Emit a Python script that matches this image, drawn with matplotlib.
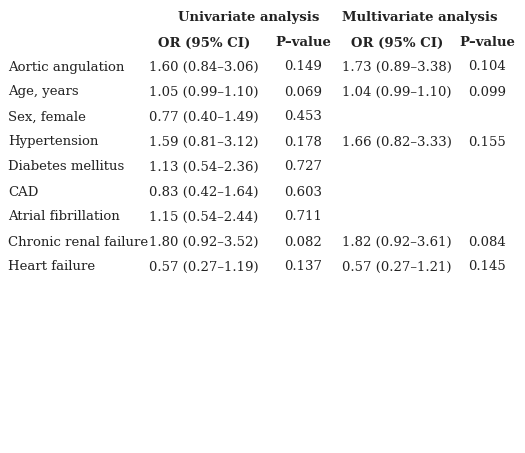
import matplotlib
matplotlib.use("Agg")
import matplotlib.pyplot as plt

variables = ["Aortic angulation", "Age, years", "Sex, female", "Hypertension", "Diabetes mellitus",
             "CAD", "Atrial fibrillation", "Chronic renal failure", "Heart failure"]
uni_or = ["1.60 (0.84–3.06)", "1.05 (0.99–1.10)", "0.77 (0.40–1.49)", "1.59 (0.81–3.12)",
          "1.13 (0.54–2.36)", "0.83 (0.42–1.64)", "1.15 (0.54–2.44)", "1.80 (0.92–3.52)", "0.57 (0.27–1.19)"]
uni_p = ["0.149", "0.069", "0.453", "0.178", "0.727", "0.603", "0.711", "0.082", "0.137"]
multi_or = ["1.73 (0.89–3.38)", "1.04 (0.99–1.10)", "", "1.66 (0.82–3.33)", "", "", "", "1.82 (0.92–3.61)", "0.57 (0.27–1.21)"]
multi_p = ["0.104", "0.099", "", "0.155", "", "", "", "0.084", "0.145"]

W, H = 525, 453
fig = plt.figure(figsize=(W/100, H/100), dpi=100)
ax = fig.add_axes([0, 0, 1, 1])
ax.set_xlim(0, W); ax.set_ylim(H, 0); ax.axis("off")
font = dict(family="DejaVu Serif", fontsize=9.5, color="#222222")

ax.text(249, 18, "Univariate analysis", ha="center", va="center", fontweight="bold", **font)
ax.text(420, 18, "Multivariate analysis", ha="center", va="center", fontweight="bold", **font)
for x, t in [(204, "OR (95% CI)"), (303, "P–value"), (397, "OR (95% CI)"), (487, "P–value")]:
    ax.text(x, 43, t, ha="center", va="center", fontweight="bold", **font)

for i, v in enumerate(variables):
    y = 67 + 25 * i
    ax.text(8, y, v, ha="left", va="center", **font)
    ax.text(204, y, uni_or[i], ha="center", va="center", **font)
    ax.text(303, y, uni_p[i], ha="center", va="center", **font)
    ax.text(397, y, multi_or[i], ha="center", va="center", **font)
    ax.text(487, y, multi_p[i], ha="center", va="center", **font)

fig.savefig("out.png", dpi=100, facecolor="white")
